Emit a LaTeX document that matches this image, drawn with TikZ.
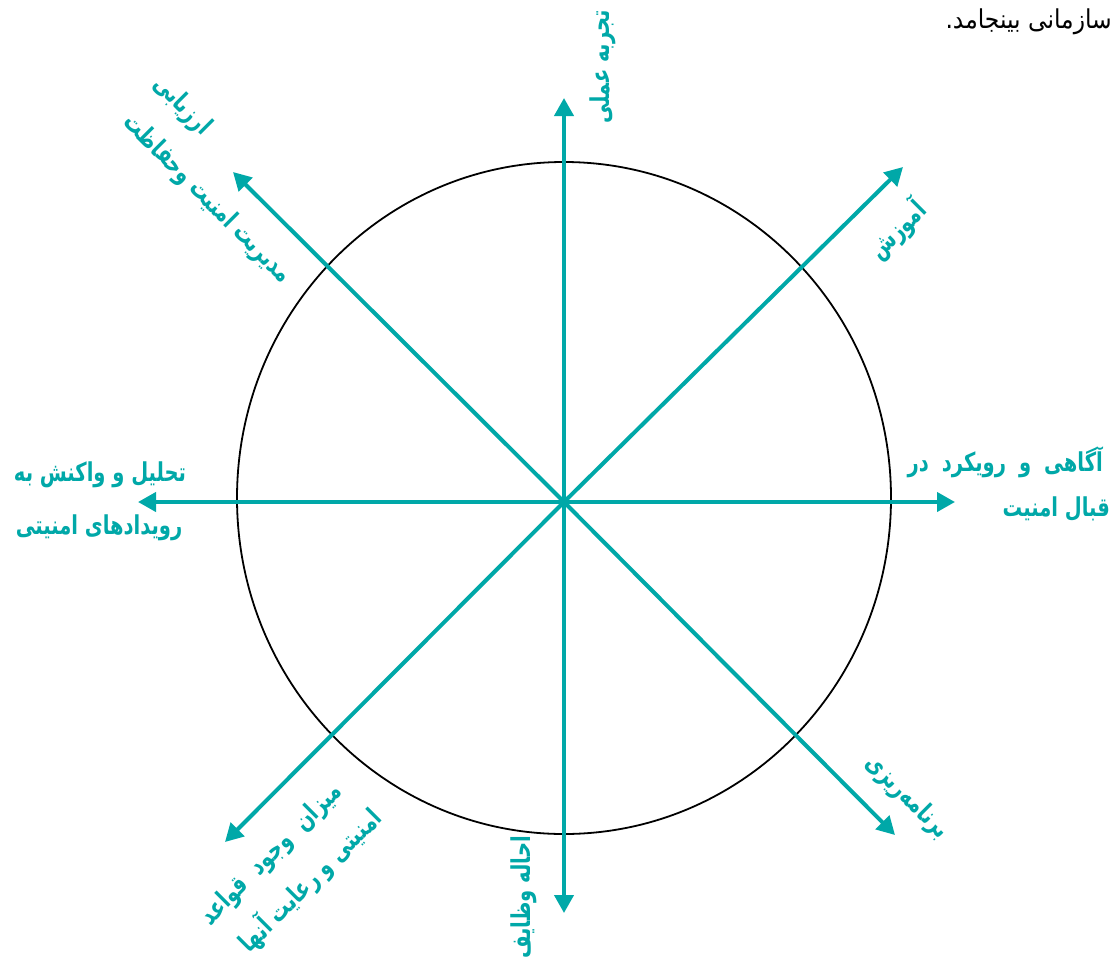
\documentclass[tikz,border=0pt]{standalone}
\usepackage{fontspec}
\newfontfamily\fa[Script=Arabic,FakeStretch=0.75]{DejaVu Sans}
\newfontfamily\fb[Script=Arabic,FakeStretch=0.9]{DejaVu Sans}
\TeXXeTstate=1
\usetikzlibrary{arrows.meta}
\definecolor{teal1}{RGB}{0,168,168}
\begin{document}
\begin{tikzpicture}[x=1pt,y=-1pt,
  arr/.style={draw=teal1,line width=4pt,-{Triangle[length=18pt,width=19pt]}},
  lbl/.style={inner sep=0pt,text=teal1,font=\fa\bfseries\fontsize{26}{29}\selectfont},
  plain/.style={inner sep=0pt,text=black,font=\fb\fontsize{26}{30}\selectfont}]
\useasboundingbox (0,0) rectangle (1115,958);
\clip (0,0) rectangle (1115,958);
\fill[white] (0,0) rectangle (1115,958);
\coordinate (O) at (564,502);
\coordinate (N) at (564,98);
\coordinate (S) at (564,913);
\coordinate (E) at (955,502);
\coordinate (W) at (138,502);
\coordinate (NE) at (903,167);
\coordinate (NW) at (233,172);
\coordinate (SE) at (895,835);
\coordinate (SW) at (225,842);
\draw[line width=1.8pt] (564,498) ellipse [x radius=327, y radius=336];
\foreach \p in {N,S,E,W,NE,NW,SE,SW} {\draw[arr] (O) -- (\p);}
\node[plain,anchor=base east] (top) at (1112,29) {\beginR سازمانی بینجامد.\endR};
\node[lbl,rotate=90,anchor=east] (ln) at (603,10) {\beginR تجربه عملی\endR};
\node[lbl,rotate=90,anchor=east] (ls) at (524,836) {\beginR احاله وظایف\endR};
\node[lbl,anchor=base east] (le1) at (1103,471) {\beginR آگاهی\hspace{13pt}و\hspace{13pt}رویکرد\hspace{13pt}در\endR};
\node[lbl,anchor=base east] (le2) at (1110,516) {\beginR قبال امنیت\endR};
\node[lbl,anchor=base] (lw1) at (100,481) {\beginR تحلیل و واکنش به\endR};
\node[lbl,anchor=base] (lw2) at (99,534) {\beginR رویدادهای امنیتی\endR};
\node[lbl,rotate=45] (lne) at (897,230) {\beginR آموزش\endR};
\node[lbl,rotate=-45] (lse) at (907,797) {\beginR برنامه‌ریزی\endR};
\node[lbl,rotate=-45] (lnw1) at (182,106) {\beginR ارزیابی\endR};
\node[lbl,rotate=-45] (lnw2) at (207,199) {\beginR مدیریت امنیت وحفاظت\endR};
\node[lbl,rotate=45] (lsw1) at (272,855) {\beginR میزان\hspace{14pt}وجود\hspace{14pt}قواعد\endR};
\node[lbl,rotate=45] (lsw2) at (310,880) {\beginR امنیتی و رعایت آنها\endR};
\end{tikzpicture}
\end{document}
